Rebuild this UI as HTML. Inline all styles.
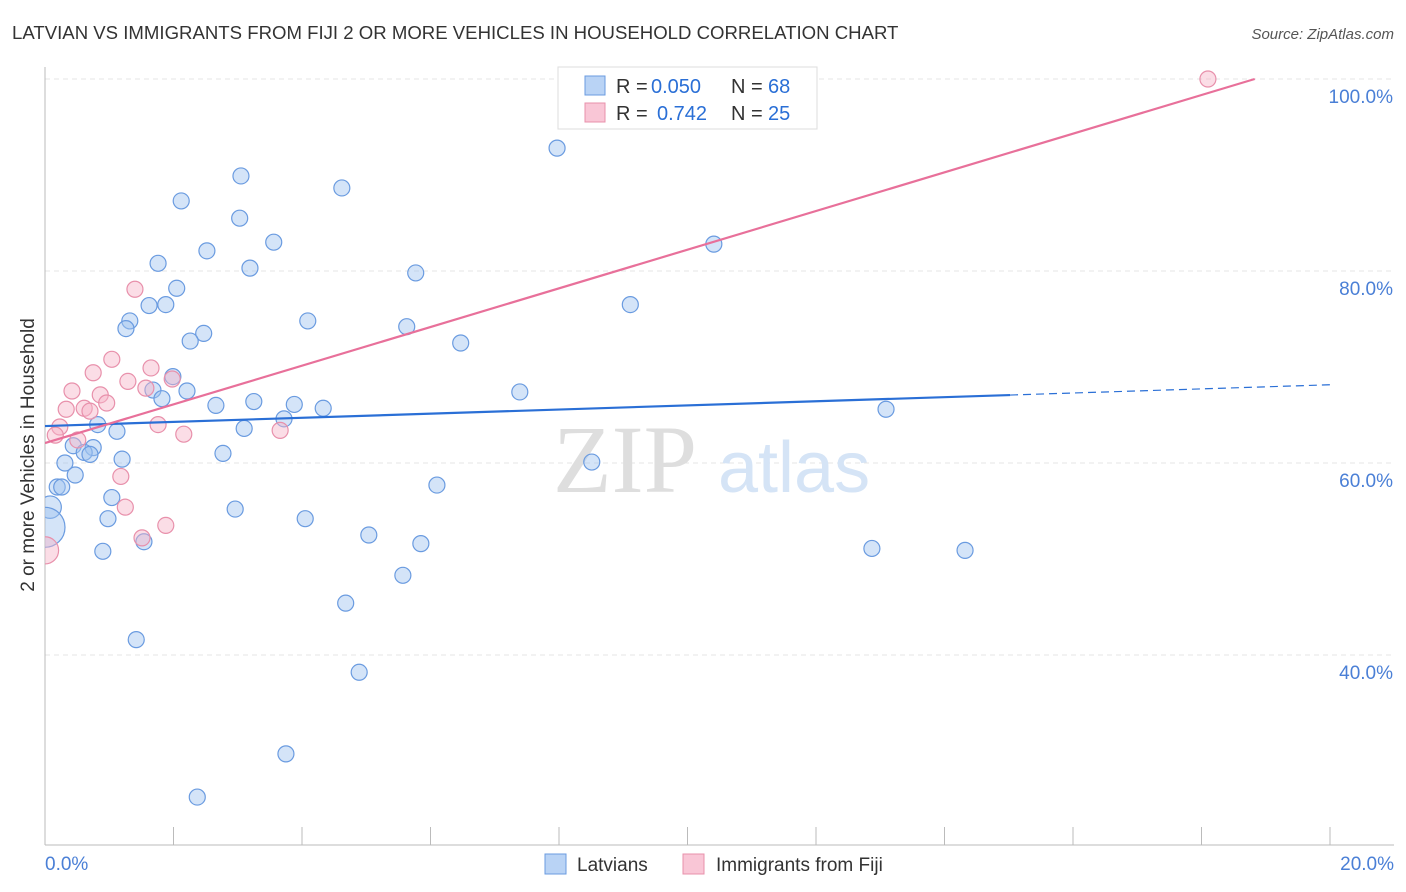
<!DOCTYPE html>
<html><head><meta charset="utf-8"><style>
body{margin:0;background:#fff;font-family:"Liberation Sans",sans-serif;}
svg{display:block}
</style></head><body>
<svg id="chart" width="1406" height="892" xmlns="http://www.w3.org/2000/svg">
<defs><clipPath id="plot"><rect x="45" y="60" width="1360" height="785"/></clipPath></defs>
<text x="12" y="39" font-size="18.6" fill="#333">LATVIAN VS IMMIGRANTS FROM FIJI 2 OR MORE VEHICLES IN HOUSEHOLD CORRELATION CHART</text>
<text x="1394" y="39" font-size="15" fill="#555" text-anchor="end" font-style="italic">Source: ZipAtlas.com</text>
<g id="grid"></g>
<g>
<text x="553" y="492" font-size="96" font-family="Liberation Serif,serif" fill="#dedede">ZIP</text>
<text x="718" y="492" font-size="72" fill="#d5e4f6">atlas</text>
</g>
<g id="marks" clip-path="url(#plot)"></g>
<text transform="translate(34,455) rotate(-90)" font-size="19" fill="#333" text-anchor="middle">2 or more Vehicles in Household</text>
<g>
<rect x="558" y="67" width="259" height="62" fill="#fff" stroke="#ddd"/>
<rect x="585" y="76" width="20" height="19" fill="#b9d3f5" stroke="#6a9be0"/>
<rect x="585" y="103" width="20" height="19" fill="#f9c6d6" stroke="#e890ab"/>
<text x="616" y="93" font-size="20" fill="#333">R =</text>
<text x="651" y="93" font-size="20" fill="#2a6fd6">0.050</text>
<text x="731" y="93" font-size="20" fill="#333">N =</text>
<text x="768" y="93" font-size="20" fill="#2a6fd6">68</text>
<text x="616" y="120" font-size="20" fill="#333">R =</text>
<text x="657" y="120" font-size="20" fill="#2a6fd6">0.742</text>
<text x="731" y="120" font-size="20" fill="#333">N =</text>
<text x="768" y="120" font-size="20" fill="#2a6fd6">25</text>
</g>
<g>
<rect x="545" y="854" width="21" height="20" fill="#b9d3f5" stroke="#6a9be0"/>
<text x="577" y="871" font-size="19" fill="#333">Latvians</text>
<rect x="683" y="854" width="21" height="20" fill="#f9c6d6" stroke="#e890ab"/>
<text x="716" y="871" font-size="19" fill="#333">Immigrants from Fiji</text>
</g>
</svg>
<script>
const blueX=[7.97,3.05,4.62,2.12,3.03,3.56,2.52,1.76,3.19,5.77,2.05,1.62,1.88,9.11,1.32,4.09,1.26,5.63,2.47,2.26,6.47,1.99,1.68,2.21,7.39,1.82,2.66,3.25,3.88,4.33,13.09,3.72,0.82,1.12,3.10,0.44,0.75,0.61,0.70,2.77,1.20,0.31,8.51,0.47,0.19,0.26,6.10,1.04,2.96,0.98,4.05,5.04,5.85,1.54,0.90,12.87,14.32,5.57,4.68,1.42,4.89,3.75,2.37,10.41,0.08,0.0];
const blueY=[92.8,89.9,88.65,87.3,85.5,83.0,82.1,80.8,80.3,79.8,78.2,76.4,76.5,76.5,74.8,74.8,74.0,74.2,73.5,72.7,72.5,69.0,67.6,67.5,67.4,66.7,66.0,66.4,66.1,65.7,65.6,64.6,64.0,63.3,63.6,61.8,61.6,61.1,60.9,61.0,60.4,60.0,60.1,58.75,57.5,57.5,57.7,56.4,55.2,54.2,54.2,52.5,51.6,51.8,50.8,51.1,50.9,48.3,45.4,41.6,38.2,29.7,25.2,82.8,55.4,53.3];
const blueSize=[1,1,1,1,1,1,1,1,1,1,1,1,1,1,1,1,1,1,1,1,1,1,1,1,1,1,1,1,1,1,1,1,1,1,1,1,1,1,1,1,1,1,1,1,1,1,1,1,1,1,1,1,1,1,1,1,1,1,1,1,1,1,1,1,1.4,2.5];
const pinkX=[18.10,1.40,1.04,1.65,0.75,1.98,1.29,0.42,0.86,1.57,0.33,0.61,0.70,0.96,0.23,1.76,2.16,3.66,0.51,0.16,1.18,1.25,1.88,1.51,0];
const pinkY=[100,78.1,70.8,69.9,69.4,68.75,68.5,67.5,67.1,67.8,65.6,65.7,65.4,66.25,63.75,64.0,63.0,63.4,62.4,62.9,58.6,55.4,53.5,52.2,50.9];
const pinkSize=[1,1,1,1,1,1,1,1,1,1,1,1,1,1,1,1,1,1,1,1,1,1,1,1,1.7];
const blueTrend=[63.85,0.215];
const pinkTrend=[62.08,2.014];
const yTicks=[40,60,80,100];
const xTickCount=10;

const NS="http://www.w3.org/2000/svg";
const X=v=>45+v*64.25, Y=v=>79+(100-v)*9.6;
function mk(t,a,p){const e=document.createElementNS(NS,t);for(const k in a)e.setAttribute(k,a[k]);p.appendChild(e);return e;}
const grid=document.getElementById('grid'), marks=document.getElementById('marks');
yTicks.forEach(t=>{
  const l=mk('line',{x1:45,x2:1394,y1:Y(t),y2:Y(t),stroke:'#e4e4e4','stroke-dasharray':'5,4'},grid);
  
  
  const tx=mk('text',{x:1393,y:Y(t)+24,'font-size':19,fill:'#4a7fd6','text-anchor':'end'},grid);
  tx.textContent=t+'.0%';
  
  
});
const ax=mk('line',{x1:45,x2:45,y1:67,y2:845,stroke:'#bbb'},grid);


const bx=mk('line',{x1:45,x2:1394,y1:845,y2:845,stroke:'#bbb'},grid);


for(let i=1;i<=xTickCount;i++){
  const t=mk('line',{x1:X(i*2),x2:X(i*2),y1:827,y2:845,stroke:'#bbb'},grid);
  
  
}
[[0,'0.0%','start',45],[20,'20.0%','end',1394]].forEach(d=>{
  const tx=mk('text',{x:d[3],y:870,'font-size':19,fill:'#4a7fd6','text-anchor':d[2]},grid);
  tx.textContent=d[1];
  
  
});
blueX.forEach((v,i)=>{
  const c=mk('circle',{cx:X(v),cy:Y(blueY[i]),r:8*blueSize[i],fill:'rgba(160,195,240,0.45)',stroke:'#6a9be0','stroke-width':1.2},marks);
  
  
});
pinkX.forEach((v,i)=>{
  const c=mk('circle',{cx:X(v),cy:Y(pinkY[i]),r:8*pinkSize[i],fill:'rgba(246,180,200,0.45)',stroke:'#e890ab','stroke-width':1.2},marks);
  
  
});
const bl=mk('line',{x1:X(0),y1:Y(blueTrend[0]),x2:X(15.02),y2:Y(blueTrend[0]+blueTrend[1]*15.02),stroke:'#2a6fd6','stroke-width':2.2},marks);


const bd=mk('line',{x1:X(15.02),y1:Y(blueTrend[0]+blueTrend[1]*15.02),x2:X(20),y2:Y(blueTrend[0]+blueTrend[1]*20),stroke:'#2a6fd6','stroke-width':1.2,'stroke-dasharray':'8,5'},marks);


const xe=(100-pinkTrend[0])/pinkTrend[1];
const pl=mk('line',{x1:X(0),y1:Y(pinkTrend[0]),x2:X(xe),y2:Y(100),stroke:'#e8709a','stroke-width':2.2},marks);


</script>
</body></html>
